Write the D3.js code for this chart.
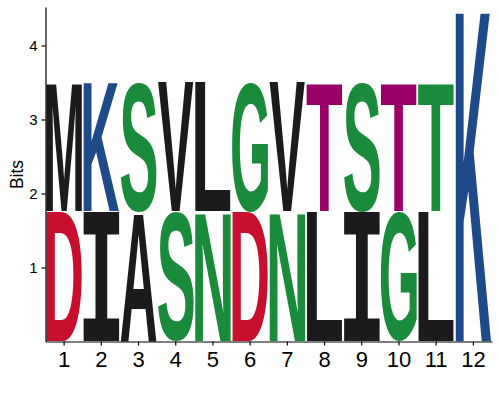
<!DOCTYPE html>
<html>
<head>
<meta charset="utf-8">
<script src="https://cdn.jsdelivr.net/npm/d3@7"></script>
<style>
  body { margin: 0; background: #fff; }
</style>
</head>
<body>
<div id="logo"></div>
<script>
// sequence positions (x categories)
var positions = [1, 2, 3, 4, 5, 6, 7, 8, 9, 10, 11, 12];

// lower letter of each stack, height in bits
var lowerLetters = ["D", "I", "A", "S", "N", "D", "N", "L", "I", "G", "L", "K"];
var lowerBits = [1.755, 1.755, 1.755, 1.755, 1.755, 1.755, 1.755, 1.755, 1.755, 1.755, 1.755, 4.51];
var lowerColors = ["#c8102e", "#1b1a1c", "#1b1a1c", "#1a8a3b", "#1a8a3b", "#c8102e",
                   "#1a8a3b", "#1b1a1c", "#1b1a1c", "#1a8a3b", "#1b1a1c", "#1e4a8a"];

// upper letter of each stack (position 12 has only one)
var upperLetters = ["M", "K", "S", "V", "L", "G", "V", "T", "S", "T", "T", ""];
var upperBits = [1.755, 1.755, 1.755, 1.755, 1.755, 1.755, 1.755, 1.755, 1.755, 1.755, 1.755, 0];
var upperColors = ["#1b1a1c", "#1e4a8a", "#1a8a3b", "#1b1a1c", "#1b1a1c", "#1a8a3b",
                   "#1b1a1c", "#990066", "#1a8a3b", "#990066", "#1a8a3b", "#1e4a8a"];

var yTicks = [1, 2, 3, 4];

var width = 500, height = 400;
var svg = d3.select("#logo")
  .append("svg")
    .attr("width", width)
    .attr("height", height);

var x = d3.scaleBand()
  .domain(positions)
  .range([45.5, 492])
  .padding(0);

var y = d3.scaleLinear()
  .domain([0, 4.52])
  .range([341.5, 7]);

// measure real ink box of a glyph so it can be stretched to fill its slot
var ctx = document.createElement("canvas").getContext("2d");
function fontFor(ch) {
  return ch === "I" ? "DejaVu Sans Mono" : "Liberation Sans";
}
function inkBox(ch) {
  ctx.font = "bold 100px '" + fontFor(ch) + "'";
  var m = ctx.measureText(ch);
  return {left: m.actualBoundingBoxLeft, right: m.actualBoundingBoxRight,
          ascent: m.actualBoundingBoxAscent, descent: m.actualBoundingBoxDescent};
}

// build glyph list from the rows
var glyphs = [];
positions.forEach(function(p, i) {
  glyphs.push({pos: p, ch: lowerLetters[i], lo: 0, hi: lowerBits[i], color: lowerColors[i]});
  if (upperLetters[i]) {
    glyphs.push({pos: p, ch: upperLetters[i], lo: lowerBits[i], hi: lowerBits[i] + upperBits[i], color: upperColors[i]});
  }
});

var padX = 0.6;
svg.append("g")
  .selectAll("text")
  .data(glyphs)
  .enter()
  .append("text")
    .attr("font-family", function(d) { return fontFor(d.ch); })
    .attr("font-weight", "bold")
    .attr("font-size", 100)
    .attr("fill", function(d) { return d.color; })
    .attr("transform", function(d) {
      var b = inkBox(d.ch);
      var x0 = x(d.pos) + padX, w = x.bandwidth() - 2 * padX;
      var y0 = y(d.hi) + 0.3, h = y(d.lo) - y(d.hi) - 0.6;
      var sx = w / (b.left + b.right), sy = h / (b.ascent + b.descent);
      return "translate(" + x0 + "," + y0 + ") scale(" + sx + "," + sy + ") translate(" + b.left + "," + b.ascent + ")";
    })
    .text(function(d) { return d.ch; });

// axes
var yAxis = svg.append("g")
  .attr("transform", "translate(45.5,0)")
  .call(d3.axisLeft(y).tickValues(yTicks).tickFormat(d3.format("d"))
        .tickSize(4).tickSizeOuter(0).tickPadding(4))
  .attr("font-family", "Liberation Sans, Arial, sans-serif")
  .attr("font-size", 15);

var xAxis = svg.append("g")
  .attr("transform", "translate(0,341.5)")
  .call(d3.axisBottom(x).tickSize(4).tickSizeOuter(0).tickPadding(6))
  .attr("font-family", "Liberation Sans, Arial, sans-serif")
  .attr("font-size", 22);

svg.selectAll(".tick text").attr("fill", "#000");
svg.selectAll(".domain, .tick line").attr("stroke", "#000").attr("stroke-width", 1.2);

svg.append("text")
  .attr("transform", "translate(22.5,174.5) rotate(-90)")
  .attr("text-anchor", "middle")
  .attr("font-family", "Liberation Sans, Arial, sans-serif")
  .attr("font-size", 17.5)
  .text("Bits");
</script>
</body>
</html>
